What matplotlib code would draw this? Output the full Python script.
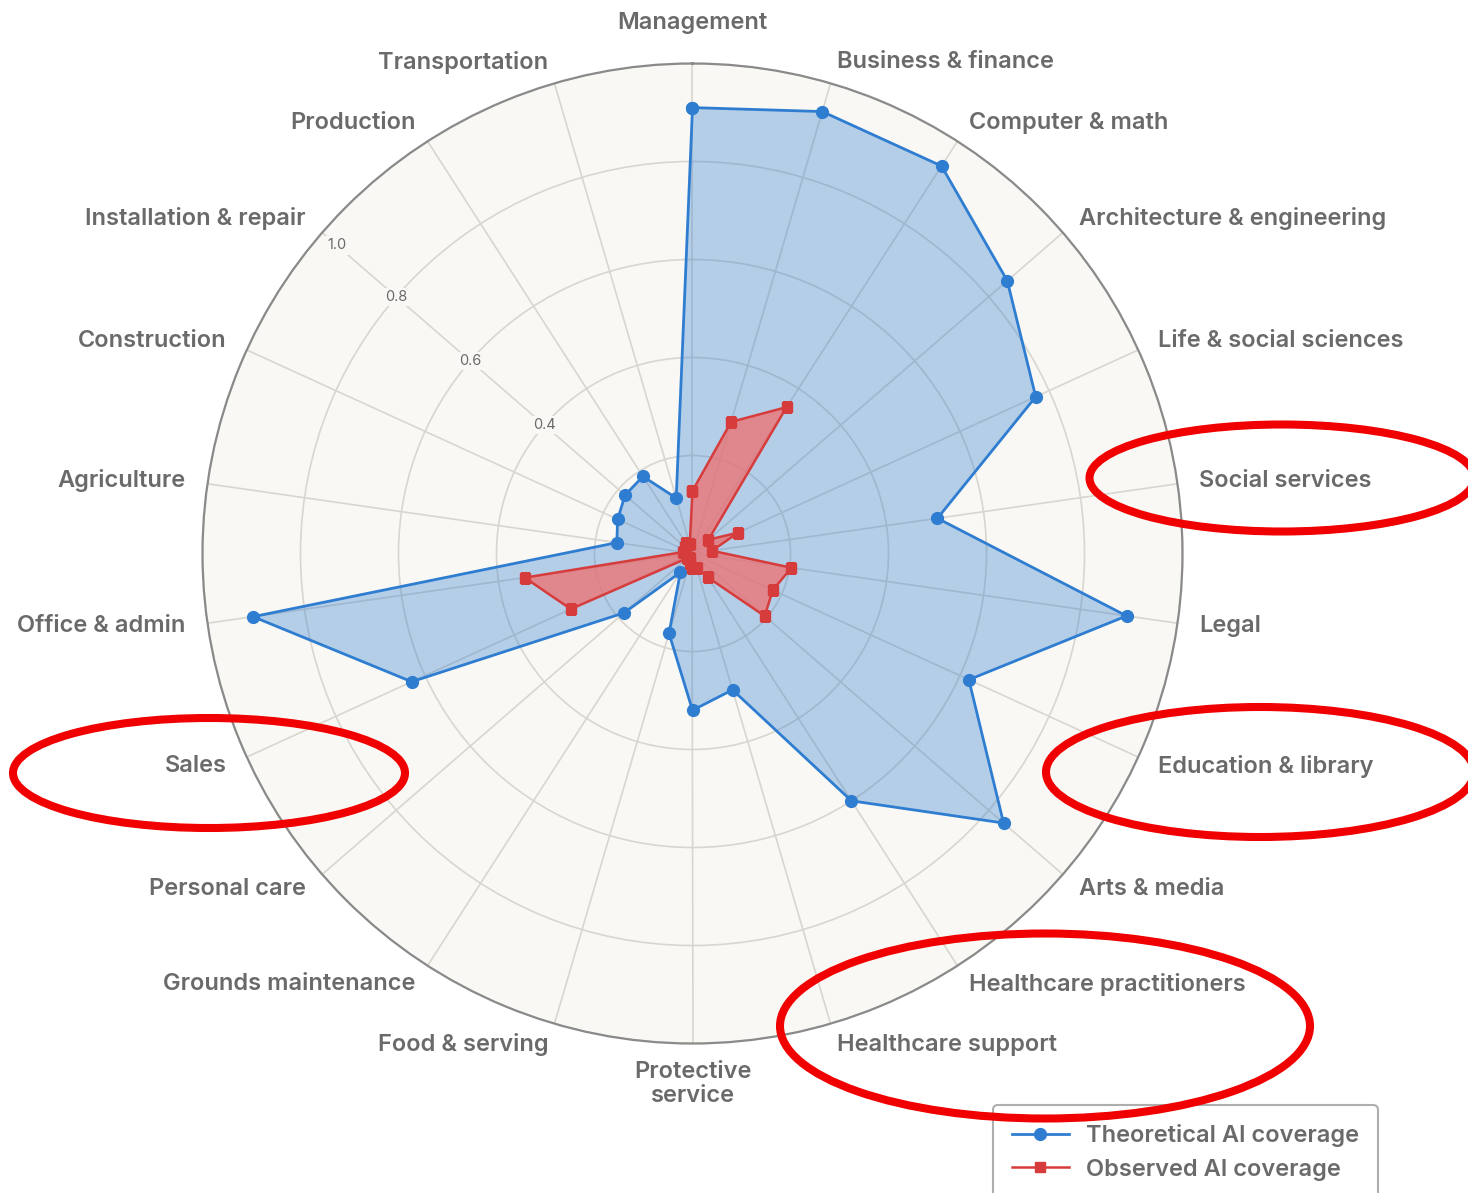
import numpy as np
import matplotlib
matplotlib.use("Agg")
import matplotlib.pyplot as plt
from matplotlib.patches import Ellipse

categories = [
    "Management", "Business & finance", "Computer & math",
    "Architecture & engineering", "Life & social sciences", "Social services",
    "Legal", "Education & library", "Arts & media", "Healthcare practitioners",
    "Healthcare support", "Protective\nservice", "Food & serving",
    "Grounds maintenance", "Personal care", "Sales", "Office & admin",
    "Agriculture", "Construction", "Installation & repair", "Production",
    "Transportation",
]
theoretical = [0.91, 0.94, 0.94, 0.85, 0.77, 0.505, 0.895, 0.62, 0.84, 0.60,
               0.29, 0.32, 0.17, 0.046, 0.185, 0.63, 0.906, 0.156, 0.168,
               0.182, 0.187, 0.118]
observed = [0.128, 0.28, 0.355, 0.043, 0.103, 0.04, 0.204, 0.18, 0.195, 0.058,
            0.03, 0.03, 0.02, 0.01, 0.015, 0.273, 0.346, 0.02, 0.015, 0.02,
            0.025, 0.02]
r_ticks = [0.2, 0.4, 0.6, 0.8, 1.0]
r_tick_labels = ["", "0.4", "0.6", "0.8", "1.0"]
legend_labels = ["Theoretical AI coverage", "Observed AI coverage"]

plt.rcParams['font.family'] = ['Inter', 'DejaVu Sans']

TXT = '#6a6a6a'
BLUE = '#2f7dd1'
RED = '#d63c3c'

W, H = 1468, 1193
fig = plt.figure(figsize=(W / 100, H / 100), dpi=100)
cx, cy, R = 692.5, 553.5, 490
ax = fig.add_axes([(cx - R) / W, (H - cy - R) / H, 2 * R / W, 2 * R / H],
                  projection='polar')
ax.set_theta_zero_location('N')
ax.set_theta_direction(-1)
ax.set_facecolor('#f9f8f4')

n = len(categories)
theta = np.arange(n) * 2 * np.pi / n
ax.set_xticks(theta)
ax.set_xticklabels([])
ax.set_ylim(0, 1.0)
ax.set_yticks(r_ticks)
ax.set_yticklabels([])
ax.tick_params(length=0)
ax.xaxis.grid(True, color='#d9d6cf', lw=1.2)
ax.yaxis.grid(True, color='#d9d6cf', lw=1.2)
ax.spines['polar'].set_color('#8a8a8a')
ax.spines['polar'].set_linewidth(1.6)
ax.set_axisbelow(True)

th_c = np.append(theta, theta[0])
theo_c = np.append(theoretical, theoretical[0])
obs_c = np.append(observed, observed[0])

ax.fill(th_c, theo_c, color=BLUE, alpha=0.34, lw=0, zorder=2)
l1, = ax.plot(th_c, theo_c, color=BLUE, lw=2.0, marker='o', ms=8.5, zorder=3)
ax.fill(th_c, obs_c, color='#f07070', alpha=0.75, lw=0, zorder=4)
l2, = ax.plot(th_c, obs_c, color=RED, lw=1.8, marker='s', ms=6.5, zorder=5)

# radial tick labels along the Installation & repair spoke
k_lab = categories.index("Installation & repair")
for rv, lab in zip(r_ticks, r_tick_labels):
    if lab:
        ax.text(theta[k_lab], min(rv, 0.96), lab, fontsize=10.5, color=TXT,
                ha='center', va='center', zorder=1,
                bbox=dict(boxstyle='square,pad=0.15', fc='#f9f8f4', ec='none'))

# category labels
for k, (t, lab) in enumerate(zip(theta, categories)):
    ang = np.pi / 2 - t
    c, s = np.cos(ang), np.sin(ang)
    if abs(c) < 0.05:
        ha = 'center'
        va = 'bottom' if s > 0 else 'top'
        r = 1.06 if s > 0 else 1.035
    else:
        ha = 'left' if c > 0 else 'right'
        va = 'center'
        r = 1.045
    ax.text(t, r, lab, ha=ha, va=va, fontsize=17, color=TXT,
            fontweight='semibold', multialignment='center', linespacing=1.15,
            clip_on=False)

leg = fig.legend([l1, l2], legend_labels, loc='upper left',
                 bbox_to_anchor=(993 / W, 1 - 1105 / H), fontsize=17,
                 labelcolor=TXT, frameon=True, fancybox=True,
                 edgecolor='#9a9a9a', handlelength=2.4, borderpad=0.8,
                 labelspacing=0.5, handletextpad=0.75, borderaxespad=0)
leg.get_frame().set_linewidth(1.5)
for t in leg.get_texts():
    t.set_fontweight('semibold')

# red hand-drawn highlight ellipses
ellipses = [(1282, 478, 385, 107), (209, 773, 392, 110),
            (1260, 772, 428, 130), (1045, 1026, 530, 185)]
for ex, ey, ew, eh in ellipses:
    e = Ellipse((ex / W, 1 - ey / H), ew / W, eh / H, transform=fig.transFigure,
                fill=False, ec='#f00000', lw=5.8, clip_on=False, zorder=10)
    fig.add_artist(e)

fig.savefig('out.png', dpi=100, facecolor='white')
